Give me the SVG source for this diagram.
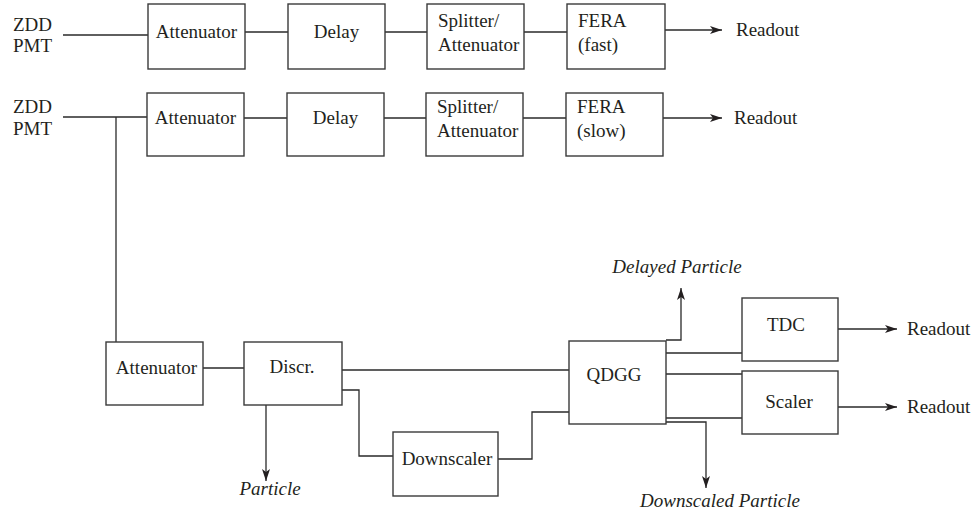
<svg xmlns="http://www.w3.org/2000/svg" width="977" height="514" viewBox="0 0 977 514" font-family="Liberation Serif, serif" font-size="19">
  <style>
    .box { fill: #ffffff; stroke: #3a3a3a; stroke-width: 1.4; }
    .wire { fill: none; stroke: #2a2a2a; stroke-width: 1.3; }
    .arrow { fill: none; stroke: #2a2a2a; stroke-width: 1.3; marker-end: url(#head); }
    svg text { font-family: 'Liberation Serif', serif !important; font-size: 19px; fill: #231f20; }
    .it { font-style: italic; }
    .c { text-anchor: middle; }
  </style>
  <defs>
    <marker id="head" viewBox="0 0 12 8" refX="12" refY="4" markerWidth="12" markerHeight="8" markerUnits="userSpaceOnUse" orient="auto">
      <path d="M0,0 L12,4 L0,8 L3,4 z" fill="#231f20"/>
    </marker>
  </defs>
  <rect width="977" height="514" fill="#ffffff"/>

  <!-- signal lines -->
  <g id="connectors">
    <!-- upper chain (fast) -->
    <path class="wire" d="M63,35 H148"/>
    <path class="wire" d="M245,32 H288"/>
    <path class="wire" d="M385,32 H427"/>
    <path class="wire" d="M524,32 H567"/>
    <path class="arrow" d="M665,30 H722"/>
    <!-- second chain (slow) -->
    <path class="wire" d="M63,117 H147"/>
    <path class="wire" d="M244,118 H287"/>
    <path class="wire" d="M384,118 H426"/>
    <path class="wire" d="M523,118 H566"/>
    <path class="arrow" d="M663,118 H722"/>
    <!-- trigger branch -->
    <path class="wire" d="M116,117 V342"/>
    <path class="wire" d="M203,368 H244"/>
    <path class="wire" d="M342,370 H569"/>
    <path class="wire" d="M342,390 H359 V456 H393"/>
    <path class="wire" d="M498,459 H532 V412 H569"/>
    <path class="arrow" d="M266,405 V481"/>
    <path class="arrow" d="M666,340 H681 V288"/>
    <path class="wire" d="M666,353 H742"/>
    <path class="wire" d="M666,374 H742"/>
    <path class="wire" d="M666,418 H742"/>
    <path class="arrow" d="M666,422 H706 V488"/>
    <path class="arrow" d="M838,329 H897"/>
    <path class="arrow" d="M838,407 H897"/>
  </g>

  <!-- labels at the signal ends -->
  <g id="inputs">
    <text x="13" y="31">ZDD</text>
    <text x="13" y="52">PMT</text>
    <text x="13" y="113">ZDD</text>
    <text x="13" y="135">PMT</text>
  </g>
  <g id="outputs">
    <text x="736" y="36">Readout</text>
    <text x="734" y="124">Readout</text>
    <text x="907" y="335">Readout</text>
    <text x="907" y="413">Readout</text>
    <text class="it c" x="270" y="495">Particle</text>
    <text class="it c" x="677" y="273">Delayed Particle</text>
    <text class="it c" x="720" y="507">Downscaled Particle</text>
  </g>

  <!-- fast chain -->
  <g id="att1"><rect class="box" x="148" y="4" width="97" height="65"/><text class="c" x="196.5" y="38">Attenuator</text></g>
  <g id="delay1"><rect class="box" x="288" y="4" width="97" height="65"/><text class="c" x="336.5" y="38">Delay</text></g>
  <g id="split1"><rect class="box" x="427" y="4" width="97" height="65"/><text x="438" y="27">Splitter/</text><text x="438" y="51">Attenuator</text></g>
  <g id="fera1"><rect class="box" x="567" y="4" width="98" height="65"/><text x="578" y="27">FERA</text><text x="578" y="51">(fast)</text></g>

  <!-- slow chain -->
  <g id="att2"><rect class="box" x="147" y="93" width="97" height="63"/><text class="c" x="195.5" y="124">Attenuator</text></g>
  <g id="delay2"><rect class="box" x="287" y="93" width="97" height="63"/><text class="c" x="335.5" y="124">Delay</text></g>
  <g id="split2"><rect class="box" x="426" y="93" width="97" height="63"/><text x="437" y="113">Splitter/</text><text x="437" y="137">Attenuator</text></g>
  <g id="fera2"><rect class="box" x="566" y="93" width="97" height="63"/><text x="577" y="113">FERA</text><text x="577" y="137">(slow)</text></g>

  <!-- trigger logic -->
  <g id="att3"><rect class="box" x="106" y="342" width="97" height="63"/><text class="c" x="156.5" y="374">Attenuator</text></g>
  <g id="discr"><rect class="box" x="244" y="342" width="98" height="63"/><text class="c" x="292" y="373">Discr.</text></g>
  <g id="downscaler"><rect class="box" x="393" y="432" width="105" height="64"/><text class="c" x="447" y="465">Downscaler</text></g>
  <g id="qdgg"><rect class="box" x="569" y="341" width="97" height="83"/><text class="c" x="614" y="381">QDGG</text></g>
  <g id="tdc"><rect class="box" x="742" y="298" width="96" height="63"/><text class="c" x="786" y="331">TDC</text></g>
  <g id="scaler"><rect class="box" x="742" y="371" width="96" height="63"/><text class="c" x="789" y="408">Scaler</text></g>
</svg>
